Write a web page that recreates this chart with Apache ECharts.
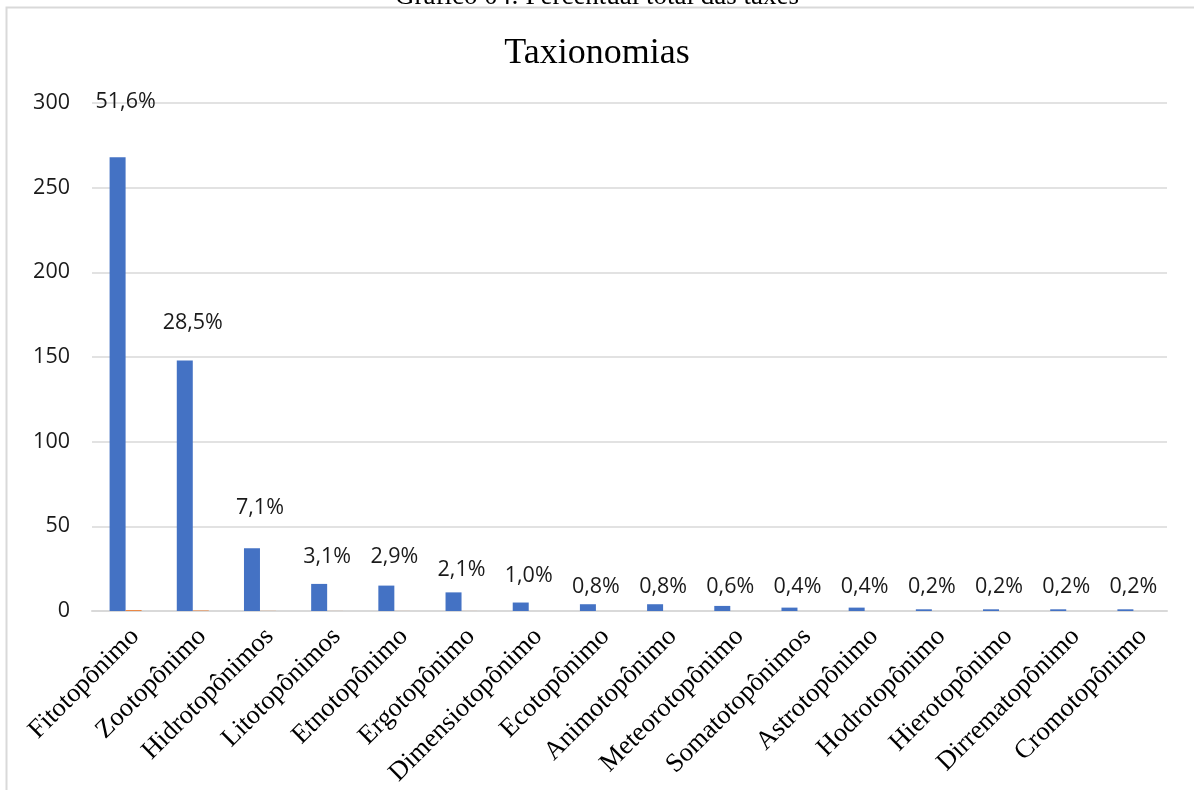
<!DOCTYPE html>
<html>
<head>
<meta charset="utf-8">
<script src="https://cdn.jsdelivr.net/npm/echarts@6/dist/echarts.min.js"></script>
<style>
  html, body { margin: 0; padding: 0; background: #fff; }
  #chart { width: 1194px; height: 790px; }
</style>
</head>
<body>
<div id="chart"></div>
<script>
// Taxonomy categories of place names
const categories = [
  'Fitotopônimo', 'Zootopônimo', 'Hidrotopônimos', 'Litotopônimos', 'Etnotopônimo',
  'Ergotopônimo', 'Dimensiotopônimo', 'Ecotopônimo', 'Animotopônimo', 'Meteorotopônimo',
  'Somatotopônimos', 'Astrotopônimo', 'Hodrotopônimo', 'Hierotopônimo', 'Dirrematopônimo',
  'Cromotopônimo'
];
// Number of names in each category
const counts = [268, 148, 37, 16, 15, 11, 5, 4, 4, 3, 2, 2, 1, 1, 1, 1];
// Share of the total (fraction)
const shares = [0.516, 0.285, 0.071, 0.031, 0.029, 0.021, 0.010, 0.008, 0.008, 0.006,
                0.004, 0.004, 0.002, 0.002, 0.002, 0.002];
// Height (in axis units) at which each percentage label sits
const labelLevel = [300, 170, 61, 32, 32, 24, 21, 14, 14, 14, 14, 14, 14, 14, 14, 14];
const yTicks = { min: 0, max: 300, interval: 50 };

const gridTop = 103, gridBottom = 179;
const plotH = 790 - gridTop - gridBottom;
const pxPerUnit = plotH / (yTicks.max - yTicks.min);
const barW = 16;
const sansFont = '"Open Sans", "Liberation Sans", sans-serif';
const serifFont = '"Liberation Serif", "Times New Roman", serif';

const chart = echarts.init(document.getElementById('chart'), null, { renderer: 'canvas' });

chart.setOption({
  animation: false,
  backgroundColor: '#ffffff',
  graphic: [
    {
      type: 'rect', silent: true,
      shape: { x: 6.5, y: 7.5, width: 1300, height: 900 },
      style: { fill: 'none', stroke: '#d9d9d9', lineWidth: 2 }
    },
    {
      type: 'text', silent: true, left: 'center', top: -17,
      style: {
        text: 'Gráfico 04: Percentual total das taxes',
        font: '27px ' + serifFont,
        fill: '#000'
      }
    }
  ],
  title: {
    text: 'Taxionomias',
    left: 'center',
    top: 31,
    textStyle: { fontFamily: serifFont, fontSize: 36, fontWeight: 'normal', color: '#000' }
  },
  grid: { left: 92, right: 27, top: gridTop, bottom: gridBottom, containLabel: false },
  xAxis: {
    type: 'category',
    data: categories,
    axisLine: { lineStyle: { color: '#d9d9d9', width: 2 } },
    axisTick: { show: false },
    axisLabel: {
      rotate: 45,
      interval: 0,
      margin: 12,
      verticalAlign: 'top',
      color: '#000',
      fontFamily: serifFont,
      fontSize: 26.5
    }
  },
  yAxis: {
    type: 'value',
    min: yTicks.min, max: yTicks.max, interval: yTicks.interval,
    axisLine: { show: false },
    axisTick: { show: false },
    splitLine: { lineStyle: { color: '#d9d9d9', width: 1.5 } },
    axisLabel: { margin: 22, color: '#1a1a1a', fontFamily: sansFont, fontSize: 21.5 }
  },
  series: [
    {
      name: 'Quantidade',
      type: 'bar',
      data: counts,
      barWidth: barW,
      barGap: '0%',
      itemStyle: { color: '#4472C4' }
    },
    {
      name: 'Percentual',
      type: 'bar',
      data: shares.map((v, i) => ({
        value: v,
        label: {
          show: true,
          position: [0, -labelLevel[i] * pxPerUnit],
          align: 'center',
          verticalAlign: 'middle',
          formatter: () => (v * 100).toFixed(1).replace('.', ',') + '%',
          color: '#1a1a1a',
          fontFamily: sansFont,
          fontSize: 21.5
        }
      })),
      barWidth: barW,
      itemStyle: { color: '#ED7D31' }
    }
  ]
});
</script>
</body>
</html>
